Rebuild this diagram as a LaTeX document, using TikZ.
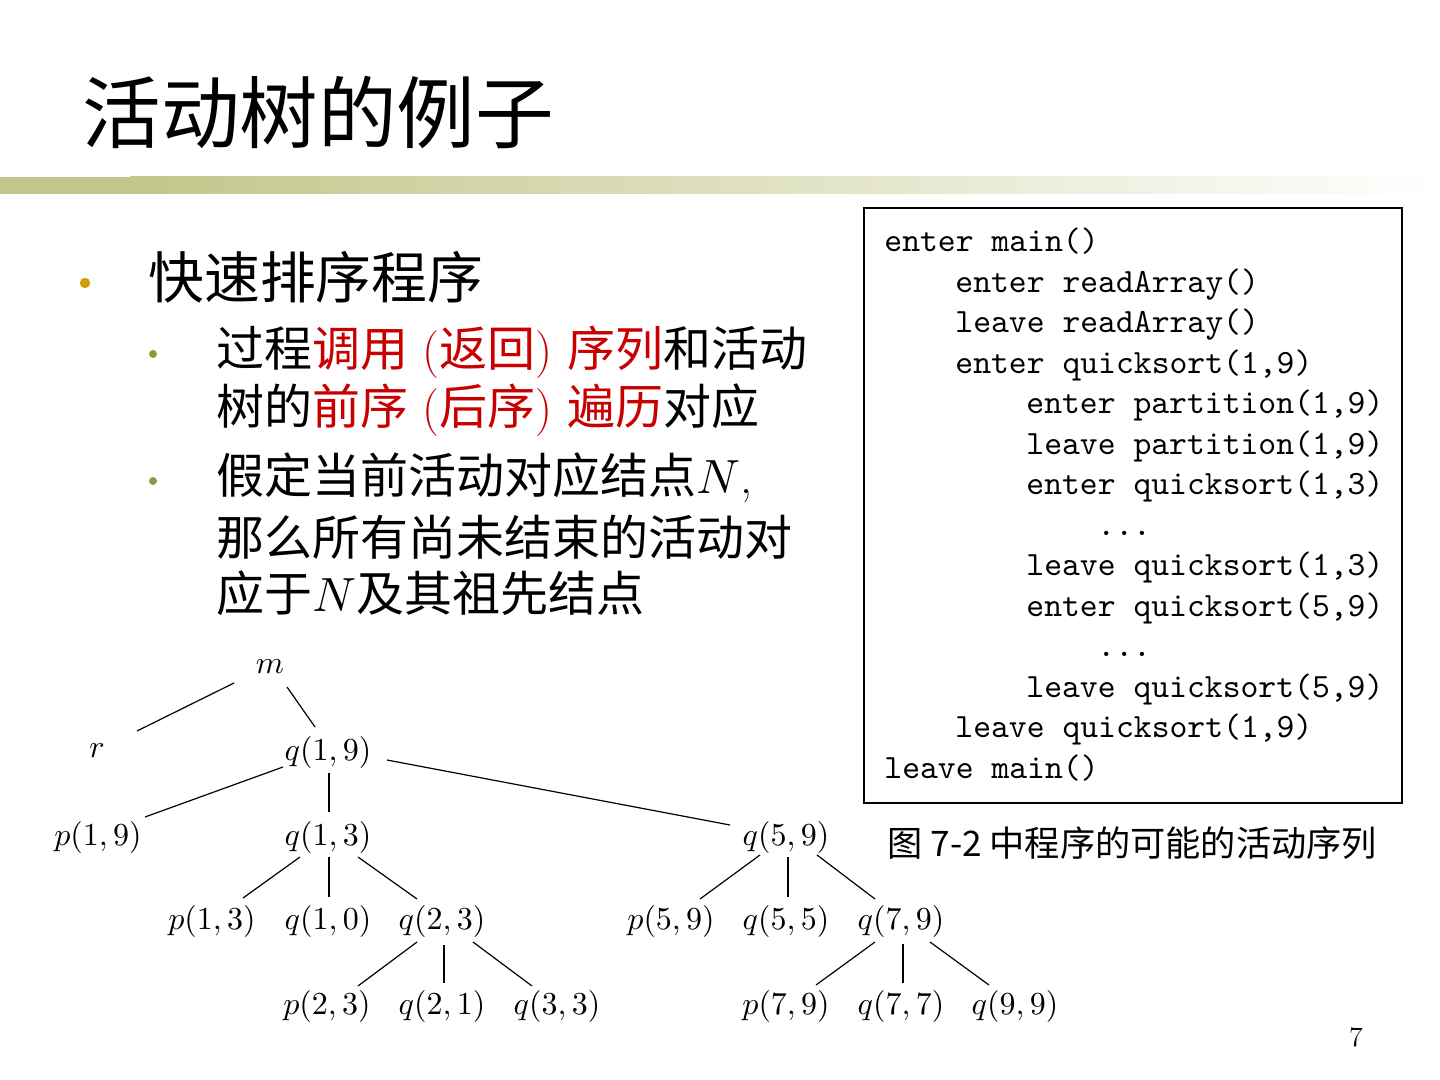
\RequirePackage{fix-cm}
\documentclass[tikz,border=0pt]{standalone}
\usepackage[no-math]{fontspec}
\DeclareFontShape{OML}{cmm}{m}{it}{<->cmmi10}{}
\DeclareFontShape{OT1}{cmr}{m}{n}{<->cmr10}{}
\newfontfamily\cjk{Noto Sans CJK SC}
\newfontfamily\codefont{lmmono10-regular.otf}
\definecolor{bandc}{RGB}{194,198,138}
\definecolor{goldb}{RGB}{204,160,0}
\definecolor{oliveb}{RGB}{150,150,60}
\definecolor{hred}{RGB}{200,0,0}
\tikzset{
  tnode/.style={inner sep=0pt, font=\fontsize{16}{19}\selectfont},
  codeline/.style={anchor=base west, inner sep=0pt, font=\codefont\fontsize{17}{20}\selectfont},
  tline/.style={line width=0.6pt},
  txt/.style={anchor=west, inner sep=0pt},
}
\newcommand{\tedge}[6]{\draw[tline] ([shift={(#2,#3)}]#1.center) -- ([shift={(#5,#6)}]#4.center);}
\begin{document}
\begin{tikzpicture}[x=0.5pt,y=-0.5pt]
\useasboundingbox (0,0) rectangle (1440,1080);
\fill[white] (0,0) rectangle (1440,1080);
% title
\node[txt] (title) at (82,113) {\cjk\fontsize{39.3}{45}\selectfont 活动树的例子};
% band
\fill[bandc] (0,177) rectangle (130,194);
\shade[left color=bandc, right color=white] (130,177) rectangle (1440,194);
% bullets
\fill[goldb] (85,283) circle (2.6pt);
\node[txt] (b1) at (148,277) {\cjk\fontsize{27.9}{32}\selectfont 快速排序程序};
\fill[oliveb] (153,354) circle (2pt);
\fill[oliveb] (153,481) circle (2pt);
\node[txt] (l1) at (216,352) {\fontsize{24}{28}\selectfont{\cjk 过程}\textcolor{hred}{{\cjk 调用} ({\cjk 返回}) {\cjk 序列}}{\cjk 和活动}};
\node[txt] (l2) at (216,410) {\fontsize{24}{28}\selectfont{\cjk 树的}\textcolor{hred}{{\cjk 前序} ({\cjk 后序}) {\cjk 遍历}}{\cjk 对应}};
\node[txt] (l3) at (216,478) {\fontsize{24}{28}\selectfont{\cjk 假定当前活动对应结点}$N$,};
\node[txt] (l4) at (216,537) {\fontsize{24}{28}\selectfont{\cjk 那么所有尚未结束的活动对}};
\node[txt] (l5) at (216,593) {\fontsize{24}{28}\selectfont{\cjk 应于}$N${\cjk 及其祖先结点}};
% code box
\draw[line width=1pt] (864,208) rectangle (1402,803);
\node[codeline] (c1) at (884,252) {enter main()};
\node[codeline] (c2) at (955,292.5) {enter readArray()};
\node[codeline] (c3) at (955,333) {leave readArray()};
\node[codeline] (c4) at (955,373.4) {enter quicksort(1,9)};
\node[codeline] (c5) at (1026,413.8) {enter partition(1,9)};
\node[codeline] (c6) at (1026,454.3) {leave partition(1,9)};
\node[codeline] (c7) at (1026,494.7) {enter quicksort(1,3)};
\node[codeline] (c8) at (1097,535.2) {...};
\node[codeline] (c9) at (1026,575.6) {leave quicksort(1,3)};
\node[codeline] (c10) at (1026,616) {enter quicksort(5,9)};
\node[codeline] (c11) at (1097,656.5) {...};
\node[codeline] (c12) at (1026,697) {leave quicksort(5,9)};
\node[codeline] (c13) at (955,737.4) {leave quicksort(1,9)};
\node[codeline] (c14) at (884,778) {leave main()};
\node[txt] (cap) at (887,843) {\cjk\fontsize{17.6}{21}\selectfont 图 7-2 中程序的可能的活动序列};
% tree
\node[tnode] (m) at (270,667) {$m$};
\node[tnode] (r) at (97,751) {$r$};
\node[tnode] (q19) at (328,752) {$q(1,9)$};
\node[tnode] (p19) at (98,837) {$p(1,9)$};
\node[tnode] (q13) at (328,837) {$q(1,3)$};
\node[tnode] (q59) at (786,837) {$q(5,9)$};
\node[tnode] (p13) at (212,921) {$p(1,3)$};
\node[tnode] (q10) at (328,921) {$q(1,0)$};
\node[tnode] (q23) at (442,921) {$q(2,3)$};
\node[tnode] (p59) at (671,921) {$p(5,9)$};
\node[tnode] (q55) at (786,921) {$q(5,5)$};
\node[tnode] (q79) at (901,921) {$q(7,9)$};
\node[tnode] (p23) at (327,1006) {$p(2,3)$};
\node[tnode] (q21) at (442,1006) {$q(2,1)$};
\node[tnode] (q33) at (557,1006) {$q(3,3)$};
\node[tnode] (p79) at (786,1006) {$p(7,9)$};
\node[tnode] (q77) at (901,1006) {$q(7,7)$};
\node[tnode] (q99) at (1015,1006) {$q(9,9)$};
\tedge{m}{-36}{16}{r}{40}{-20}
\tedge{m}{17}{20}{q19}{-13}{-25}
\tedge{q19}{-45}{15}{p19}{47}{-20}
\tedge{q19}{1}{21}{q13}{1}{-25}
\tedge{q19}{59}{8}{q59}{-56}{-12}
\tedge{q13}{-28}{20}{p13}{31}{-23}
\tedge{q13}{1}{20}{q10}{1}{-24}
\tedge{q13}{30}{20}{q23}{-25}{-22}
\tedge{q23}{-25}{21}{p23}{31}{-20}
\tedge{q23}{2}{24}{q21}{2}{-23}
\tedge{q23}{31}{21}{q33}{-25}{-20}
\tedge{q59}{-26}{18}{p59}{29}{-22}
\tedge{q59}{2}{20}{q55}{2}{-24}
\tedge{q59}{31}{18}{q79}{-26}{-22}
\tedge{q79}{-26}{21}{p79}{30}{-21}
\tedge{q79}{2}{23}{q77}{2}{-23}
\tedge{q79}{29}{21}{q99}{-26}{-21}
% page number
\node[inner sep=0pt, font=\fontsize{14}{16}\selectfont] (pg) at (1356,1037) {7};
\end{tikzpicture}
\end{document}
